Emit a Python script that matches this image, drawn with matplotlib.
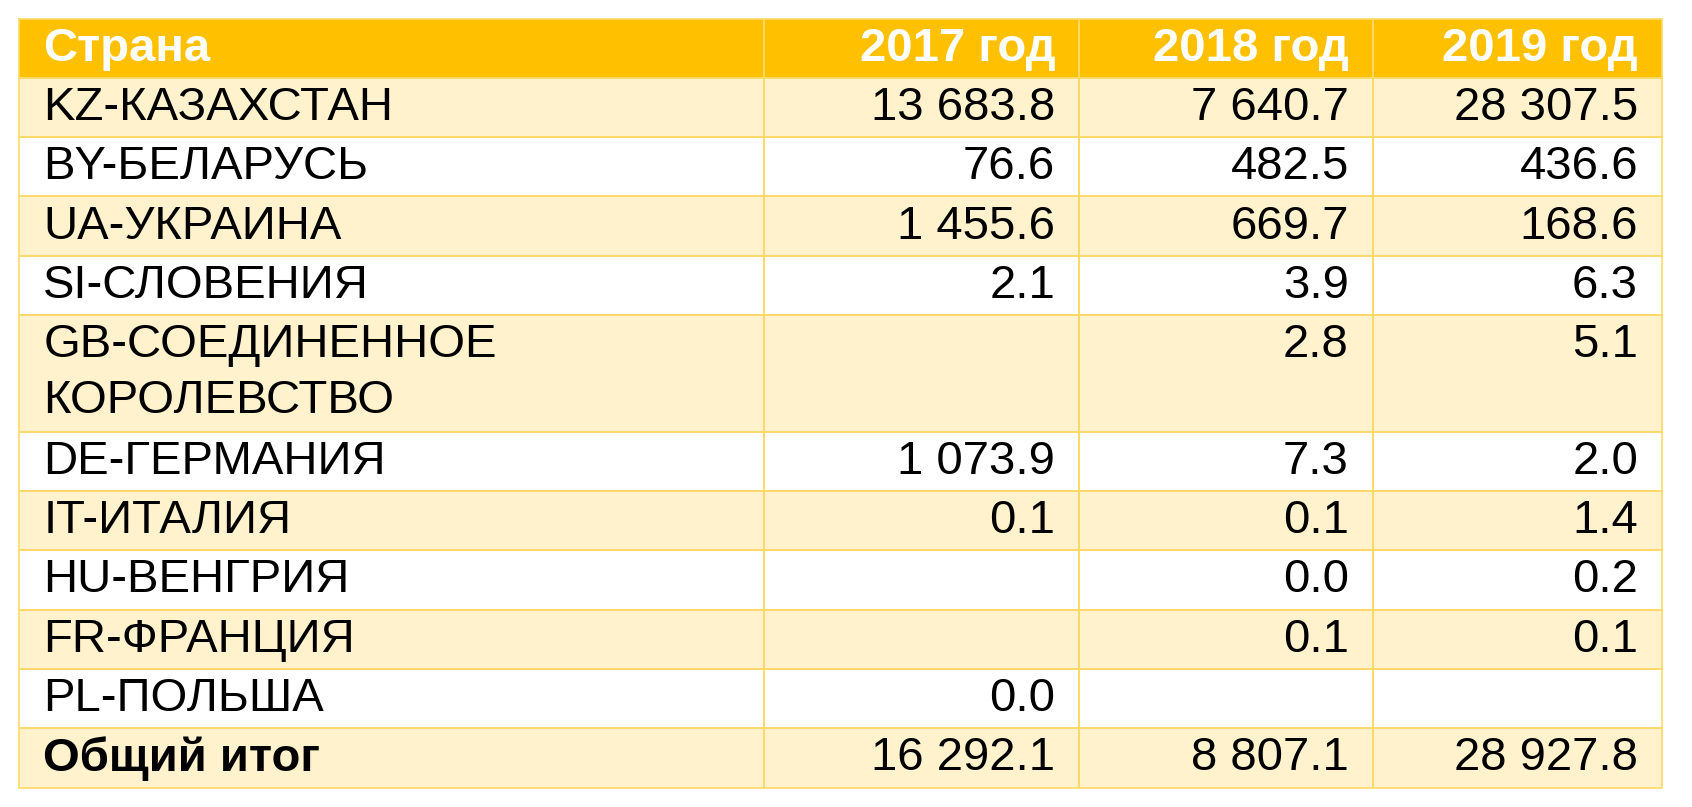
import matplotlib
matplotlib.use("Agg")
import matplotlib.pyplot as plt
from matplotlib.patches import Rectangle

header = ["Страна", "2017 год", "2018 год", "2019 год"]
countries = ["KZ-КАЗАХСТАН", "BY-БЕЛАРУСЬ", "UA-УКРАИНА", "SI-СЛОВЕНИЯ",
             "GB-СОЕДИНЕННОЕ\nКОРОЛЕВСТВО", "DE-ГЕРМАНИЯ", "IT-ИТАЛИЯ",
             "HU-ВЕНГРИЯ", "FR-ФРАНЦИЯ", "PL-ПОЛЬША"]
v2017 = ["13 683.8", "76.6", "1 455.6", "2.1", "", "1 073.9", "0.1", "", "", "0.0"]
v2018 = ["7 640.7", "482.5", "669.7", "3.9", "2.8", "7.3", "0.1", "0.0", "0.1", ""]
v2019 = ["28 307.5", "436.6", "168.6", "6.3", "5.1", "2.0", "1.4", "0.2", "0.1", ""]
total_label = "Общий итог"
totals = ["16 292.1", "8 807.1", "28 927.8"]

W, H = 1568, 748
fig = plt.figure(figsize=(16.92, 8.07), dpi=100)
ax = fig.add_axes([0, 0, 1, 1])
ax.set_xlim(0, W); ax.set_ylim(H, 0); ax.axis("off")

cols = [18, 708, 1000, 1272, 1540]
FONT = "Liberation Sans"
FS = 34
border = "#FFD966"
PADL, PADR = 22, 22

def cells(y0, h, bg):
    ax.add_patch(Rectangle((cols[0], y0), cols[-1] - cols[0], h, facecolor=bg,
                           edgecolor="none", zorder=1))
    for i in range(4):
        ax.add_patch(Rectangle((cols[i], y0), cols[i+1] - cols[i], h, facecolor="none",
                               edgecolor=border, lw=1.2, zorder=2))

def txt(x, y, t, ha, color="black", bold=False):
    if t:
        ax.text(x, y, t, ha=ha, va="center", fontsize=FS, family=FONT, color=color,
                fontweight="bold" if bold else "normal", zorder=3)

# header
cells(18, 54, "#FFC000")
txt(cols[0] + PADL, 45, header[0], "left", "white", True)
for i in range(1, 4):
    txt(cols[i+1] - PADR, 45, header[i], "right", "white", True)

y = 72
for k, c in enumerate(countries):
    lines = c.split("\n")
    h = 55 * len(lines) - 2 * (len(lines) - 1)
    bg = "#FFF2CC" if k % 2 == 0 else "white"
    cells(y, h, bg)
    for j, ln in enumerate(lines):
        txt(cols[0] + PADL, y + 28 + 52 * j, ln, "left")
    for i, v in enumerate([v2017[k], v2018[k], v2019[k]]):
        txt(cols[i+2] - PADR, y + 28, v, "right")
    y += h

cells(y, 55, "#FFF2CC")
txt(cols[0] + PADL, y + 28, total_label, "left", bold=True)
for i, v in enumerate(totals):
    txt(cols[i+2] - PADR, y + 28, v, "right")
fig.savefig("out.png", dpi=100)
